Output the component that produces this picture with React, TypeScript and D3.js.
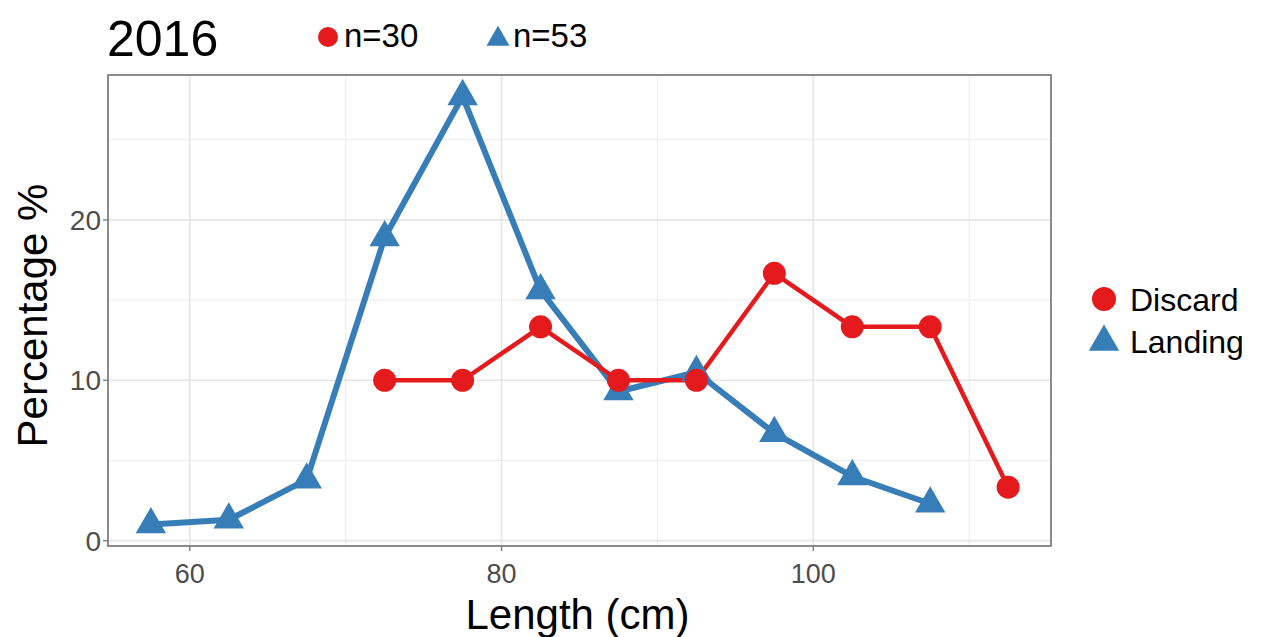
import React from "react";
import * as d3 from "d3";

const lengths = [57.5, 62.5, 67.5, 72.5, 77.5, 82.5, 87.5, 92.5, 97.5, 102.5, 107.5, 112.5];
const landingLengths = [57.5, 62.5, 67.5, 72.5, 77.5, 82.5, 87.5, 92.5, 97.5, 102.5, 107.5];
const landingValues = [1.0, 1.3, 3.8, 18.9, 27.7, 15.6, 9.3, 10.5, 6.7, 4.0, 2.3];
const discardLengths = [72.5, 77.5, 82.5, 87.5, 92.5, 97.5, 102.5, 107.5, 112.5];
const discardValues = [10.0, 10.0, 13.33, 10.0, 10.0, 16.67, 13.33, 13.33, 3.33];
const xTicks = [60, 80, 100];
const xMinor = [50, 70, 90, 110];
const yTicks = [0, 10, 20];
const yMinor = [5, 15, 25];
const seriesNames = ["Discard", "Landing"];
const nLabels = ["n=30", "n=53"];

const RED = "#E41A1C";
const BLUE = "#377EB8";
const FONT = "'Liberation Sans', Arial, sans-serif";

export default function App() {
  const W = 1265, H = 637;
  const left = 108, right = 1051, top = 75, bottom = 546;

  const xExt = d3.extent(lengths) as [number, number];
  const xPad = (xExt[1] - xExt[0]) * 0.05;
  const x = d3.scaleLinear().domain([xExt[0] - xPad, xExt[1] + xPad]).range([left, right]);
  const allY = [...landingValues, ...discardValues];
  const yMin = d3.min(allY)!, yMax = d3.max(allY)!;
  const yPad = (yMax - yMin) * 0.05;
  const y = d3.scaleLinear().domain([yMin - yPad, yMax + yPad]).range([bottom, top]);

  const line = d3.line<[number, number]>().x(d => x(d[0])).y(d => y(d[1]));
  const landing: [number, number][] = landingLengths.map((l, i) => [l, landingValues[i]]);
  const discard: [number, number][] = discardLengths.map((l, i) => [l, discardValues[i]]);

  const tri = d3.symbol().type(d3.symbolTriangle).size(400)();
  const triLegend = d3.symbol().type(d3.symbolTriangle).size(230)();

  return (
    <svg width={W} height={H} style={{ position: "absolute", left: 0, top: 0, background: "#fff" }} fontFamily={FONT}>
      <rect x={0} y={0} width={W} height={H} fill="#fff" />
      <text x={107} y={56} fontSize={50} fill="#000">2016</text>
      <circle cx={328} cy={37} r={10} fill={RED} />
      <text x={344} y={47} fontSize={33} fill="#000">{nLabels[0]}</text>
      <path d={triLegend} transform={`translate(498,39)`} fill={BLUE} />
      <text x={513} y={47} fontSize={33} fill="#000">{nLabels[1]}</text>

      <g>
        {xMinor.filter(v => x(v) > left && x(v) < right).map(v => (
          <line key={"xm" + v} x1={x(v)} x2={x(v)} y1={top} y2={bottom} stroke="#ebebeb" strokeWidth={1} />
        ))}
        {yMinor.map(v => (
          <line key={"ym" + v} x1={left} x2={right} y1={y(v)} y2={y(v)} stroke="#ebebeb" strokeWidth={1} />
        ))}
        {xTicks.map(v => (
          <line key={"xg" + v} x1={x(v)} x2={x(v)} y1={top} y2={bottom} stroke="#e6e6e6" strokeWidth={1.6} />
        ))}
        {yTicks.map(v => (
          <line key={"yg" + v} x1={left} x2={right} y1={y(v)} y2={y(v)} stroke="#e6e6e6" strokeWidth={1.6} />
        ))}
      </g>

      <path d={line(landing)!} fill="none" stroke={BLUE} strokeWidth={6} strokeLinejoin="round" />
      <path d={line(discard)!} fill="none" stroke={RED} strokeWidth={4.5} strokeLinejoin="round" />
      {landing.map((d, i) => (
        <path key={"lt" + i} d={tri} transform={`translate(${x(d[0])},${y(d[1])})`} fill={BLUE} />
      ))}
      {discard.map((d, i) => (
        <circle key={"dc" + i} cx={x(d[0])} cy={y(d[1])} r={11.5} fill={RED} />
      ))}

      <rect x={left} y={top} width={right - left} height={bottom - top} fill="none" stroke="#7f7f7f" strokeWidth={1.8} />

      {xTicks.map(v => (
        <g key={"xt" + v}>
          <line x1={x(v)} x2={x(v)} y1={bottom} y2={bottom + 5} stroke="#7f7f7f" strokeWidth={1.4} />
          <text x={x(v)} y={bottom + 37} fontSize={27} fill="#4d4d4d" textAnchor="middle">{v}</text>
        </g>
      ))}
      {yTicks.map(v => (
        <g key={"yt" + v}>
          <line x1={left - 5} x2={left} y1={y(v)} y2={y(v)} stroke="#7f7f7f" strokeWidth={1.4} />
          <text x={left - 7} y={y(v) + 10} fontSize={28} fill="#4d4d4d" textAnchor="end">{v}</text>
        </g>
      ))}

      <text x={(left + right) / 2 - 2} y={629} fontSize={42} fill="#000" textAnchor="middle">Length (cm)</text>
      <text transform={`translate(47,${(top + bottom) / 2 + 5}) rotate(-90)`} fontSize={42} fill="#000" textAnchor="middle">Percentage %</text>

      <circle cx={1104} cy={299} r={12} fill={RED} />
      <text x={1130} y={311} fontSize={32} fill="#000">{seriesNames[0]}</text>
      <path d={tri} transform={`translate(1104,342)`} fill={BLUE} />
      <text x={1130} y={353} fontSize={32} fill="#000">{seriesNames[1]}</text>
    </svg>
  );
}
